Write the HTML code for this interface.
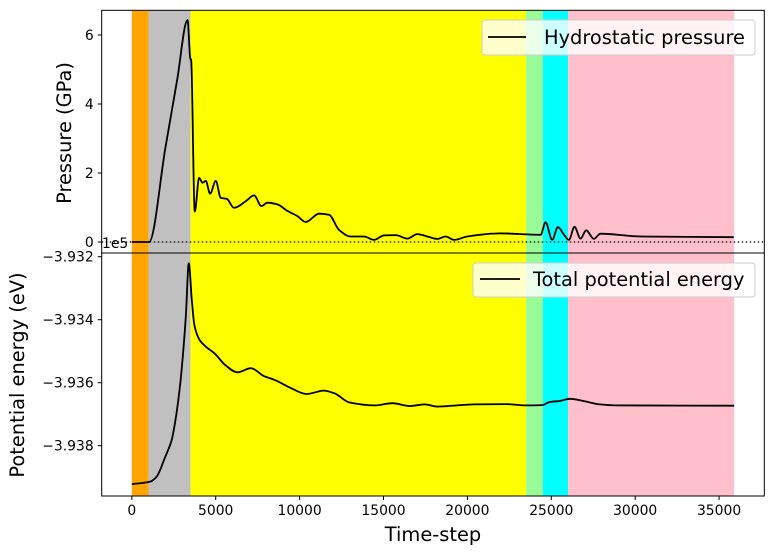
<!DOCTYPE html>
<html><head><meta charset="utf-8">
<style>
html,body{margin:0;padding:0;background:#fff;position:relative;}
svg{display:block;font-family:"DejaVu Sans","Liberation Sans",sans-serif;}
</style></head>
<body>
<svg id="chart" width="773" height="555" viewBox="0 0 773 555"></svg>
<script>
const xTicks=[0,5000,10000,15000,20000,25000,30000,35000];
const pTicks=[0,2,4,6];
const eTicks=[-3.932,-3.934,-3.936,-3.938];
const eTickLabels=["\u22123.932","\u22123.934","\u22123.936","\u22123.938"];
const bandStarts=[0,1000,3500,23500,24500,26000];
const bandEnds=[1000,3500,23500,24500,26000,35900];
const bandColors=["orange","silver","yellow","palegreen","cyan","pink"];
const pTime=[0,1030,2000,2700,3317,3500,3530,3752,4010,4210,4407,4666,5003,5300,5658,6095,6790,7287,7723,8082,8677,9273,9869,10363,11158,11754,12350,13043,13837,14433,15029,15724,16419,17016,17612,18208,18702,19200,19993,21978,24360,24658,25055,25393,25790,26048,26385,26743,27081,27534,27934,30316,35870];
const pVal=[0,0,2.73,4.69,6.43,5.3,5.3,0.88,1.86,1.72,1.77,1.40,1.77,1.28,1.25,0.99,1.18,1.35,1.04,1.14,1.09,0.90,0.75,0.58,0.82,0.79,0.35,0.16,0.16,0.06,0.19,0.20,0.10,0.23,0.16,0.09,0.16,0.06,0.16,0.25,0.21,0.57,0.06,0.43,0.19,0.06,0.44,0.10,0.34,0.09,0.24,0.16,0.14];
const eTime=[0,1100,1480,1993,2376,2631,2887,3219,3398,3577,3730,4036,4420,4931,5569,6285,7102,7869,8507,9401,10423,11445,12083,12978,14510,15532,16555,17449,18215,19365,20387,22302,23453,24474,24858,25496,26135,26901,27923,28818,35900];
const eVal=[-3.93922,-3.93914,-3.93898,-3.93835,-3.93782,-3.93708,-3.93602,-3.93390,-3.93221,-3.93337,-3.93417,-3.93464,-3.93486,-3.93507,-3.93544,-3.93567,-3.93554,-3.93579,-3.93591,-3.93615,-3.93636,-3.93625,-3.93634,-3.93663,-3.93672,-3.93665,-3.93674,-3.93669,-3.93676,-3.93672,-3.93669,-3.93668,-3.93672,-3.93671,-3.93662,-3.93658,-3.93651,-3.93658,-3.93669,-3.93672,-3.93673];

const NS="http://www.w3.org/2000/svg";
const svg=document.getElementById('chart');
const L=101.7,R=764.3,T1=10.3,B1=253,T2=253,B2=496;
const X0=-1795,X1=37695;
function xs(t){return L+(t-X0)/(X1-X0)*(R-L);}
function yp(v){return 242-v*34.5;}
function ye(v){return 256.7+(-3.932-v)/0.002*63;}
function mk(tag,attrs,parent){const e=document.createElementNS(NS,tag);for(const k in attrs)e.setAttribute(k,attrs[k]);(parent||svg).appendChild(e);return e;}
function smoothPath(xa,ya){
  const n=xa.length,dx=[],m=[],t=[];
  for(let i=0;i<n-1;i++){dx.push(xa[i+1]-xa[i]);m.push((ya[i+1]-ya[i])/dx[i]);}
  t[0]=m[0];t[n-1]=m[n-2];
  for(let i=1;i<n-1;i++){
    if(m[i-1]*m[i]<=0)t[i]=0;
    else{const w1=2*dx[i]+dx[i-1],w2=dx[i]+2*dx[i-1];t[i]=(w1+w2)/(w1/m[i-1]+w2/m[i]);}
  }
  let d='M'+xa[0].toFixed(1)+','+ya[0].toFixed(1);
  for(let i=0;i<n-1;i++){
    const h=dx[i]/3;
    d+='C'+(xa[i]+h).toFixed(1)+','+(ya[i]+t[i]*h).toFixed(1)+' '+(xa[i+1]-h).toFixed(1)+','+(ya[i+1]-t[i+1]*h).toFixed(1)+' '+xa[i+1].toFixed(1)+','+ya[i+1].toFixed(1);
  }
  return d;
}

for(let i=0;i<bandStarts.length;i++){
  const r=mk('rect',{x:xs(bandStarts[i]),y:T1,width:xs(bandEnds[i])-xs(bandStarts[i]),height:B2-T1,fill:bandColors[i]});
  
  
}
const zl=mk('line',{x1:L,x2:R,y1:yp(0),y2:yp(0),stroke:'#000','stroke-width':1.2,'stroke-dasharray':'1.5,2.5'});



const pl=mk('path',{d:smoothPath(pTime.map(xs),pVal.map(yp)),fill:'none',stroke:'#000','stroke-width':1.8,'stroke-linejoin':'round'});


const el2=mk('path',{d:smoothPath(eTime.map(xs),eVal.map(ye)),fill:'none',stroke:'#000','stroke-width':1.8,'stroke-linejoin':'round'});



const f1=mk('rect',{x:L,y:T1,width:R-L,height:B1-T1,fill:'none',stroke:'#000','stroke-width':1});


const f2=mk('rect',{x:L,y:T2,width:R-L,height:B2-T2,fill:'none',stroke:'#000','stroke-width':1});



xTicks.forEach(t=>{
  const x=xs(t);
  mk('line',{x1:x,x2:x,y1:B2,y2:B2+4,stroke:'#000'});
  const tx=mk('text',{x:x,y:B2+19,'font-size':13.9,'text-anchor':'middle',fill:'#000'});
  tx.textContent=t;
  
  
});
pTicks.forEach(v=>{
  const y=yp(v);
  mk('line',{x1:L-4,x2:L,y1:y,y2:y,stroke:'#000'});
  const tx=mk('text',{x:L-8,y:y+5,'font-size':13.9,'text-anchor':'end',fill:'#000'});
  tx.textContent=v;
  
  
});
eTicks.forEach((v,i)=>{
  const y=ye(v);
  mk('line',{x1:L-4,x2:L,y1:y,y2:y,stroke:'#000'});
  const tx=mk('text',{x:L-8,y:y+5,'font-size':13.9,'text-anchor':'end',fill:'#000'});
  tx.textContent=eTickLabels[i];
  
  
});
</script>
<svg style="position:absolute;left:0;top:0" width="773" height="555">
  <text x="102" y="248" font-size="13.9">1e5</text>
  <text x="0" y="0" font-size="19.4" text-anchor="middle" transform="translate(71,133) rotate(-90)">Pressure (GPa)</text>
  <text x="0" y="0" font-size="19.4" text-anchor="middle" transform="translate(24,375) rotate(-90)">Potential energy (eV)</text>
  <text x="433" y="541" font-size="19.4" text-anchor="middle">Time-step</text>
  <g>
    <rect x="482" y="20" width="273" height="35" rx="3" fill="#fff" fill-opacity="0.8" stroke="#ccc"/>
    <line x1="488" x2="526" y1="37" y2="37" stroke="#000" stroke-width="1.8"/>
    <text x="544" y="44" font-size="19.4">Hydrostatic pressure</text>
  </g>
  <g>
    <rect x="473" y="263" width="282" height="34" rx="3" fill="#fff" fill-opacity="0.8" stroke="#ccc"/>
    <line x1="480" x2="520" y1="279" y2="279" stroke="#000" stroke-width="1.8"/>
    <text x="533" y="286" font-size="19.4">Total potential energy</text>
  </g>
</svg>
</body></html>
